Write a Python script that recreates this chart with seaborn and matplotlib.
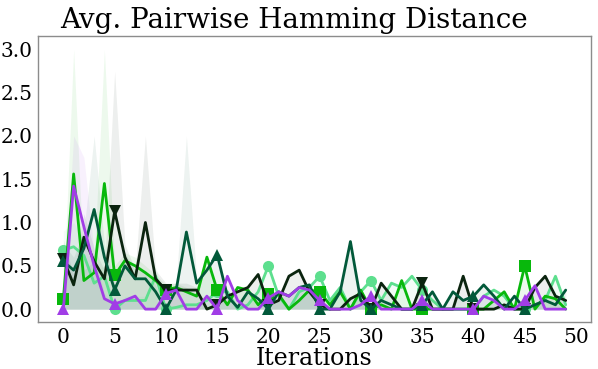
import numpy as np
import pandas as pd
import seaborn as sns
import matplotlib.pyplot as plt

# iterations 0..49
iterations = list(range(50))

# mean values per series
mint = [0.68, 0.72, 0.62, 0.30, 0.38, 0.00, 0.10, 0.10, 0.10, 0.38,
        0.00, 0.02, 0.05, 0.05, 0.10, 0.20, 0.20, 0.00, 0.05, 0.20,
        0.50, 0.15, 0.00, 0.20, 0.25, 0.38, 0.10, 0.25, 0.00, 0.20,
        0.33, 0.10, 0.30, 0.25, 0.38, 0.22, 0.10, 0.00, 0.00, 0.00,
        0.00, 0.15, 0.22, 0.15, 0.00, 0.00, 0.05, 0.10, 0.38, 0.05]
green = [0.12, 1.56, 0.33, 0.42, 1.45, 0.39, 0.56, 0.50, 0.42, 0.33,
         0.22, 0.25, 0.20, 0.15, 0.60, 0.22, 0.05, 0.25, 0.22, 0.05,
         0.17, 0.17, 0.00, 0.10, 0.22, 0.20, 0.05, 0.20, 0.00, 0.22,
         0.00, 0.05, 0.00, 0.33, 0.00, 0.00, 0.00, 0.00, 0.00, 0.00,
         0.00, 0.00, 0.10, 0.20, 0.00, 0.50, 0.00, 0.15, 0.12, 0.00]
black = [0.58, 0.28, 0.83, 0.55, 0.35, 1.13, 0.60, 0.35, 1.00, 0.35,
         0.22, 0.22, 0.22, 0.22, 0.00, 0.05, 0.15, 0.20, 0.25, 0.40,
         0.05, 0.10, 0.38, 0.45, 0.20, 0.05, 0.00, 0.00, 0.12, 0.18,
         0.00, 0.30, 0.15, 0.00, 0.00, 0.30, 0.00, 0.00, 0.00, 0.38,
         0.00, 0.00, 0.00, 0.05, 0.00, 0.00, 0.25, 0.38, 0.15, 0.10]
teal = [0.55, 0.45, 0.70, 1.15, 0.60, 0.22, 0.50, 0.35, 0.35, 0.20,
        0.00, 0.22, 0.89, 0.30, 0.45, 0.63, 0.15, 0.02, 0.20, 0.12,
        0.00, 0.20, 0.15, 0.25, 0.28, 0.00, 0.00, 0.20, 0.78, 0.10,
        0.00, 0.10, 0.05, 0.00, 0.00, 0.05, 0.20, 0.00, 0.20, 0.10,
        0.15, 0.28, 0.15, 0.00, 0.15, 0.00, 0.05, 0.10, 0.05, 0.22]
purple = [0.00, 1.42, 0.95, 0.50, 0.12, 0.06, 0.10, 0.15, 0.00, 0.00,
          0.18, 0.22, 0.00, 0.00, 0.15, 0.00, 0.38, 0.10, 0.00, 0.00,
          0.13, 0.20, 0.15, 0.25, 0.22, 0.10, 0.00, 0.00, 0.00, 0.05,
          0.15, 0.00, 0.00, 0.00, 0.00, 0.10, 0.00, 0.00, 0.00, 0.00,
          0.00, 0.15, 0.10, 0.00, 0.00, 0.10, 0.27, 0.00, 0.00, 0.00]

# upper edge of the shaded spread for each series
mint_hi = [0.90, 1.00, 0.80, 0.45, 0.50, 0.00, 0.15, 0.15, 0.15, 0.50,
           0.00, 0.02, 0.05, 0.05, 0.10, 0.20, 0.20, 0.00, 0.05, 0.20,
           0.50, 0.15, 0.00, 0.20, 0.25, 0.38, 0.10, 0.25, 0.00, 0.20,
           0.33, 0.10, 0.30, 0.25, 0.38, 0.22, 0.10, 0.00, 0.00, 0.00,
           0.00, 0.15, 0.22, 0.15, 0.00, 0.00, 0.05, 0.10, 0.38, 0.05]
green_hi = [0.20, 3.00, 0.45, 0.55, 3.00, 0.50, 0.65, 0.60, 0.50, 0.40,
            0.28, 0.30, 0.25, 0.18, 0.60, 0.22, 0.05, 0.25, 0.22, 0.05,
            0.17, 0.17, 0.00, 0.10, 0.22, 0.20, 0.05, 0.20, 0.00, 0.22,
            0.00, 0.05, 0.00, 0.33, 0.00, 0.00, 0.00, 0.00, 0.00, 0.00,
            0.00, 0.00, 0.10, 0.20, 0.00, 0.50, 0.00, 0.15, 0.12, 0.00]
black_hi = [0.80, 0.40, 1.10, 0.70, 0.45, 2.75, 0.75, 0.45, 2.00, 0.45,
            0.30, 0.30, 0.30, 0.25, 0.00, 0.05, 0.15, 0.20, 0.25, 0.40,
            0.05, 0.10, 0.38, 0.45, 0.20, 0.05, 0.00, 0.00, 0.12, 0.18,
            0.00, 0.30, 0.15, 0.00, 0.00, 0.30, 0.00, 0.00, 0.00, 0.38,
            0.00, 0.00, 0.00, 0.05, 0.00, 0.00, 0.25, 0.38, 0.15, 0.10]
teal_hi = [0.75, 0.60, 0.90, 2.00, 0.75, 0.30, 0.65, 0.45, 0.45, 0.28,
           0.00, 0.30, 2.00, 0.35, 0.50, 0.63, 0.15, 0.02, 0.20, 0.12,
           0.00, 0.20, 0.15, 0.25, 0.28, 0.00, 0.00, 0.20, 0.78, 0.10,
           0.00, 0.10, 0.05, 0.00, 0.00, 0.05, 0.20, 0.00, 0.20, 0.10,
           0.15, 0.28, 0.15, 0.00, 0.15, 0.00, 0.05, 0.10, 0.05, 0.22]
purple_hi = [0.00, 2.00, 1.75, 0.65, 0.18, 0.08, 0.12, 0.18, 0.00, 0.00,
             0.22, 0.25, 0.00, 0.00, 0.15, 0.00, 0.38, 0.10, 0.00, 0.00,
             0.13, 0.20, 0.15, 0.25, 0.22, 0.10, 0.00, 0.00, 0.00, 0.05,
             0.15, 0.00, 0.00, 0.00, 0.00, 0.10, 0.00, 0.00, 0.00, 0.00,
             0.00, 0.15, 0.10, 0.00, 0.00, 0.10, 0.27, 0.00, 0.00, 0.00]

series = [
    (mint, mint_hi, '#5ddf8e', 'o'),
    (green, green_hi, '#08b80c', 's'),
    (black, black_hi, '#0b240f', 'v'),
    (teal, teal_hi, '#02593a', '^'),
    (purple, purple_hi, '#a13de6', '^'),
]

sns.set_style('white')
plt.rcParams['font.family'] = ['DejaVu Serif']
plt.rcParams['text.color'] = 'black'
plt.rcParams['xtick.color'] = 'black'
plt.rcParams['ytick.color'] = 'black'
plt.rcParams['axes.labelcolor'] = 'black'

fig = plt.figure(figsize=(5.98, 3.69), dpi=100)
ax = fig.add_axes([0.064, 0.127, 0.924, 0.775])

for vals, hi, color, marker in series:
    df = pd.DataFrame({'Iterations': iterations, 'value': vals})
    ax.fill_between(iterations, 0, hi, color=color, alpha=0.07, linewidth=0)
    sns.lineplot(data=df, x='Iterations', y='value', ax=ax, color=color,
                 linewidth=2.0, marker=marker, markersize=8, markevery=5,
                 markeredgewidth=0)

fig.suptitle('Avg. Pairwise Hamming Distance', fontsize=20, x=0.492, y=0.982)
ax.set_xlabel('Iterations', fontsize=17, labelpad=0)
ax.set_ylabel('')
ax.set_xticks(range(0, 51, 5))
ax.set_yticks([0.0, 0.5, 1.0, 1.5, 2.0, 2.5, 3.0])
ax.tick_params(labelsize=14.5, length=0, pad=4)
for s in ax.spines.values():
    s.set_color('#8c8c8c')
    s.set_linewidth(1.0)

plt.savefig('out.png', dpi=100)
